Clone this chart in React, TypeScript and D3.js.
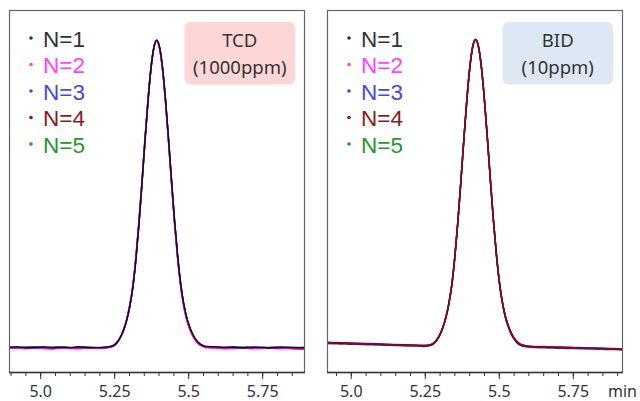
import React from 'react';
import * as d3 from 'd3';

// ---------- data ----------
const seriesNames = ['N=1', 'N=2', 'N=3', 'N=4', 'N=5'];
const lineColors = ['#111111', '#ff00ff', '#2a2aff', '#8b0a0a', '#1f8f1f'];
const legendColors = ['#333333', '#ff40ff', '#4646f0', '#8b1a1a', '#22992a'];

const majorTicks = [5.0, 5.25, 5.5, 5.75];
const majorTickLabels = ['5.0', '5.25', '5.5', '5.75'];
const minorTicks = [4.9, 4.95, 5.0, 5.05, 5.1, 5.15, 5.2, 5.25, 5.3, 5.35, 5.4, 5.45, 5.5, 5.55, 5.6, 5.65, 5.7, 5.75, 5.8, 5.85, 5.9];

// TCD (1000 ppm) – retention time (min)
const tcdTime = [4.893, 4.92, 4.95, 4.98, 5.01, 5.04, 5.07, 5.10, 5.13, 5.16, 5.19, 5.22,
  5.242, 5.252, 5.262, 5.272, 5.282, 5.292, 5.302, 5.312, 5.322, 5.332, 5.342, 5.352, 5.362, 5.372, 5.382, 5.392,
  5.402, 5.412, 5.422, 5.432, 5.442, 5.452, 5.462, 5.472, 5.482, 5.492, 5.502, 5.512, 5.522, 5.532, 5.542, 5.552, 5.562,
  5.59, 5.62, 5.65, 5.68, 5.71, 5.74, 5.77, 5.80, 5.83, 5.86, 5.893];

const tcdN1 = [0.1, 0.2, -0.1, 0.0, 0.2, -0.1, 0.1, 0.0, 0.2, -0.1, 0.0, 0.1,
  0.5, 1.1, 2.2, 3.9, 6.2, 9.4, 13.9, 20.0, 29.0, 40.2, 53.1, 66.8, 79.6, 90.4, 97.6, 100.2,
  97.8, 91.0, 80.6, 68.0, 54.7, 41.9, 30.8, 21.7, 15.0, 10.4, 7.1, 4.7, 2.9, 1.7, 0.9, 0.5, 0.3,
  0.2, 0.0, 0.1, -0.1, 0.0, 0.1, -0.2, 0.0, 0.1, -0.1, 0.0];
const tcdN2 = [-0.3, -0.2, -0.4, -0.2, -0.3, -0.5, -0.2, -0.3, -0.4, -0.2, -0.3, -0.2,
  0.3, 0.9, 2.1, 3.9, 6.4, 9.9, 14.6, 21.0, 30.2, 41.5, 54.4, 67.9, 80.5, 90.9, 97.7, 99.8,
  97.1, 89.9, 79.3, 66.6, 53.2, 40.4, 29.4, 20.4, 13.9, 9.4, 6.3, 4.0, 2.4, 1.2, 0.5, 0.1, -0.1,
  -0.2, -0.4, -0.3, -0.2, -0.4, -0.3, -0.2, -0.4, -0.3, -0.5, -0.6];
const tcdN3 = [0.1, -0.1, 0.0, 0.2, -0.1, 0.0, 0.1, -0.1, 0.1, 0.0, -0.1, 0.1,
  0.5, 1.1, 2.2, 3.9, 6.3, 9.5, 14.0, 20.2, 29.2, 40.4, 53.3, 66.9, 79.7, 90.4, 97.5, 100.0,
  97.6, 90.7, 80.3, 67.7, 54.3, 41.5, 30.4, 21.3, 14.7, 10.1, 6.9, 4.5, 2.8, 1.6, 0.9, 0.4, 0.2,
  0.1, 0.0, 0.2, -0.1, 0.1, 0.0, -0.1, 0.1, 0.0, -0.1, 0.0];
const tcdN4 = [0.0, -0.1, 0.1, 0.0, -0.1, 0.0, 0.1, -0.1, 0.0, 0.1, -0.1, 0.0,
  0.4, 1.0, 2.1, 3.8, 6.2, 9.5, 14.0, 20.2, 29.2, 40.4, 53.3, 66.9, 79.7, 90.4, 97.5, 100.0,
  97.6, 90.7, 80.2, 67.6, 54.2, 41.4, 30.3, 21.2, 14.6, 10.0, 6.8, 4.4, 2.7, 1.5, 0.8, 0.4, 0.2,
  0.1, 0.0, -0.1, 0.1, 0.0, -0.1, 0.0, 0.1, -0.1, 0.0, -0.1];
const tcdN5 = [-0.1, -0.2, 0.0, -0.1, -0.2, 0.0, -0.1, -0.2, -0.1, 0.0, -0.2, -0.1,
  0.3, 0.9, 2.0, 3.7, 6.1, 9.4, 13.9, 20.1, 29.1, 40.3, 53.2, 66.8, 79.6, 90.3, 97.4, 99.9,
  97.5, 90.6, 80.1, 67.5, 54.1, 41.3, 30.2, 21.1, 14.5, 9.9, 6.7, 4.3, 2.6, 1.4, 0.7, 0.3, 0.1,
  0.0, -0.2, -0.1, 0.0, -0.2, -0.1, -0.3, -0.1, -0.2, 0.0, -0.2];

// BID (10 ppm) – retention time (min)
const bidTime = [4.918, 4.95, 4.98, 5.01, 5.04, 5.07, 5.10, 5.13, 5.16, 5.19, 5.22, 5.25,
  5.27, 5.28, 5.29, 5.30, 5.31, 5.32, 5.33, 5.34, 5.35, 5.36, 5.37, 5.38, 5.39, 5.40, 5.41, 5.42,
  5.43, 5.44, 5.45, 5.46, 5.47, 5.48, 5.49, 5.50, 5.51, 5.52, 5.53, 5.54, 5.55, 5.56, 5.57, 5.58, 5.59,
  5.62, 5.65, 5.68, 5.71, 5.74, 5.77, 5.80, 5.83, 5.86, 5.89, 5.918];

const bidN1 = [1.55, 1.45, 1.35, 1.25, 1.2, 1.1, 1.0, 0.9, 0.8, 0.7, 0.62, 0.55,
  0.9, 1.5, 2.6, 4.3, 6.7, 9.9, 14.4, 20.6, 29.6, 40.8, 53.7, 67.3, 80.1, 90.8, 97.9, 100.3,
  97.9, 91.0, 80.5, 67.9, 54.5, 41.7, 30.6, 21.5, 14.9, 10.2, 7.0, 4.6, 2.9, 1.7, 1.0, 0.6, 0.4,
  0.2, 0.12, 0.05, -0.02, -0.1, -0.18, -0.25, -0.33, -0.4, -0.48, -0.58];
const bidN2 = [1.7, 1.6, 1.5, 1.4, 1.3, 1.25, 1.1, 1.0, 0.95, 0.85, 0.75, 0.7,
  1.0, 1.6, 2.7, 4.4, 6.8, 10.1, 14.6, 20.8, 29.8, 41.0, 53.9, 67.5, 80.3, 91.0, 98.1, 100.5,
  98.1, 91.2, 80.7, 68.1, 54.7, 41.9, 30.8, 21.7, 15.1, 10.5, 7.3, 4.9, 3.2, 2.0, 1.2, 0.8, 0.6,
  0.35, 0.3, 0.2, 0.15, 0.05, -0.05, -0.1, -0.2, -0.25, -0.35, -0.45];
const bidN3 = [1.3, 1.2, 1.1, 1.05, 0.95, 0.85, 0.8, 0.7, 0.6, 0.5, 0.45, 0.35,
  0.7, 1.3, 2.4, 4.1, 6.5, 9.8, 14.3, 20.5, 29.5, 40.7, 53.6, 67.2, 80.0, 90.7, 97.8, 100.2,
  97.8, 90.9, 80.4, 67.8, 54.4, 41.5, 30.4, 21.3, 14.7, 10.0, 6.8, 4.4, 2.7, 1.5, 0.8, 0.4, 0.2,
  -0.05, -0.1, -0.2, -0.25, -0.35, -0.4, -0.5, -0.55, -0.65, -0.7, -0.8];
const bidN4 = [1.6, 1.5, 1.4, 1.3, 1.25, 1.15, 1.05, 0.95, 0.85, 0.75, 0.68, 0.6,
  0.95, 1.55, 2.65, 4.35, 6.75, 10.0, 14.5, 20.7, 29.7, 40.9, 53.8, 67.4, 80.2, 90.9, 98.0, 100.4,
  98.0, 91.1, 80.6, 68.0, 54.6, 41.8, 30.7, 21.6, 15.0, 10.35, 7.15, 4.75, 3.05, 1.85, 1.1, 0.7, 0.5,
  0.25, 0.18, 0.1, 0.02, -0.05, -0.15, -0.22, -0.3, -0.38, -0.45, -0.55];
const bidN5 = [1.6, 1.45, 1.4, 1.3, 1.2, 1.15, 1.05, 0.95, 0.85, 0.78, 0.66, 0.58,
  0.95, 1.55, 2.65, 4.35, 6.75, 10.0, 14.5, 20.7, 29.7, 40.9, 53.8, 67.4, 80.2, 90.9, 98.0, 100.4,
  98.0, 91.1, 80.6, 68.0, 54.6, 41.8, 30.7, 21.6, 15.0, 10.35, 7.15, 4.75, 3.05, 1.85, 1.1, 0.7, 0.5,
  0.22, 0.15, 0.08, 0.0, -0.08, -0.15, -0.25, -0.3, -0.4, -0.47, -0.55];

const tcdSeries = [tcdN1, tcdN2, tcdN3, tcdN4, tcdN5];
const bidSeries = [bidN1, bidN2, bidN3, bidN4, bidN5];

const tcdLabel = ['TCD', '(1000ppm)'];
const bidLabel = ['BID', '(10ppm)'];

// ---------- layout ----------
const W = 640;
const H = 401;
const TOP = 10;
const BOTTOM = 372;
const PANEL_W = 296;
const Y_DOMAIN: [number, number] = [-8, 110];
const FONT = '"Noto Sans", "Open Sans", sans-serif';
const LEGEND_FONT = '"Liberation Sans", Arial, sans-serif';

interface PanelProps {
  x0: number;
  xDomain: [number, number];
  time: number[];
  series: number[][];
  drawOrder: number[];
  label: string[];
  labelFill: string;
}

function Panel({ x0, xDomain, time, series, drawOrder, label, labelFill }: PanelProps) {
  const x = d3.scaleLinear().domain(xDomain).range([x0, x0 + PANEL_W]);
  const y = d3.scaleLinear().domain(Y_DOMAIN).range([BOTTOM, TOP]);
  const line = d3
    .line<number>()
    .x((_, i) => x(time[i]))
    .y((v) => y(v))
    .curve(d3.curveMonotoneX);

  const minor = minorTicks.filter((t) => t >= xDomain[0] && t <= xDomain[1]);
  const boxW = 110.5;
  const boxX = x0 + PANEL_W - 10 - boxW;

  return (
    <g>
      <defs>
        <clipPath id={`clip-${x0}`}>
          <rect x={x0} y={TOP} width={PANEL_W} height={BOTTOM - TOP} />
        </clipPath>
      </defs>
      <rect x={boxX} y={22} width={boxW} height={62.5} rx={6} ry={6} fill={labelFill} />
      <text x={boxX + boxW / 2} y={47} textAnchor="middle" fontSize={18.5} fill="#333" fontFamily={FONT}>
        {label[0]}
      </text>
      <text x={boxX + boxW / 2} y={74} textAnchor="middle" fontSize={18.5} fill="#333" fontFamily={FONT}>
        {label[1]}
      </text>

      {seriesNames.map((name, i) => (
        <g key={name}>
          <circle cx={x0 + 22} cy={38 + i * 26.5} r={1.8} fill={legendColors[i]} />
          <text x={x0 + 34} y={46.5 + i * 26.5} fontSize={22.5} fill={legendColors[i]} fontFamily={LEGEND_FONT}>
            {name}
          </text>
        </g>
      ))}

      <g clipPath={`url(#clip-${x0})`}>
        {drawOrder.map((si) => (
          <path
            key={si}
            d={line(series[si]) || ''}
            fill="none"
            stroke={lineColors[si]}
            strokeWidth={1.5}
            strokeLinejoin="round"
          />
        ))}
      </g>

      <rect x={x0 + 0.5} y={TOP + 0.5} width={PANEL_W - 1} height={BOTTOM - TOP} fill="none" stroke="#666" strokeWidth={1.2} />
      <line x1={x0} x2={x0 + PANEL_W} y1={BOTTOM + 0.5} y2={BOTTOM + 0.5} stroke="#333" strokeWidth={1.3} />

      {minor.map((t) => (
        <line key={`m${t}`} x1={x(t)} x2={x(t)} y1={BOTTOM} y2={BOTTOM + 4} stroke="#333" strokeWidth={1} />
      ))}
      {majorTicks.map((t, i) => (
        <g key={`M${t}`}>
          <line x1={x(t)} x2={x(t)} y1={BOTTOM} y2={BOTTOM + 7} stroke="#333" strokeWidth={1} />
          <text x={x(t)} y={396.5} textAnchor="middle" fontSize={16} fill="#333" fontFamily={FONT}>
            {majorTickLabels[i]}
          </text>
        </g>
      ))}
    </g>
  );
}

export default function App() {
  return (
    <svg
      width={W}
      height={H}
      viewBox={`0 0 ${W} ${H}`}
      style={{ position: 'absolute', left: 0, top: 0, background: '#fff' }}
    >
      <rect x={0} y={0} width={W} height={H} fill="#fff" />
      <Panel
        x0={9}
        xDomain={[4.893, 5.893]}
        time={tcdTime}
        series={tcdSeries}
        drawOrder={[4, 3, 2, 1, 0]}
        label={tcdLabel}
        labelFill="#fdd6d6"
      />
      <Panel
        x0={327}
        xDomain={[4.918, 5.918]}
        time={bidTime}
        series={bidSeries}
        drawOrder={[2, 4, 1, 0, 3]}
        label={bidLabel}
        labelFill="#dde8f4"
      />
      <text x={608} y={397} fontSize={16} fill="#333" fontFamily={FONT}>
        min
      </text>
    </svg>
  );
}
